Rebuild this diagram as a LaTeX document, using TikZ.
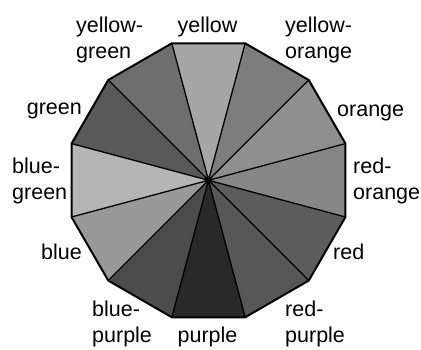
\documentclass[tikz,border=0pt]{standalone}
\usepackage{fontspec}
\setmainfont{Liberation Sans}
\usetikzlibrary{calc}
\tikzset{
  spoke/.style = {draw=black, line width=1.3pt, line cap=round},
  rim/.style   = {draw=black, line width=2pt, line join=miter},
  hub/.style   = {circle, fill=black, inner sep=0pt, minimum size=8pt},
  hue/.style   = {font=\fontsize{21.5}{26.5}\selectfont, align=left, inner sep=0pt},
}

\begin{document}
\begin{tikzpicture}[x=1pt, y=1pt]
\useasboundingbox (0,0) rectangle (421,350);
\coordinate (c) at (208.5,169.7);
\def\rad{141.8}

% corners of the dodecagon
\foreach \k in {0,...,11}
  \coordinate (v\k) at ($(c)+(15+30*\k:\rad)$);

% wedges, counter-clockwise from red-orange
\foreach \k/\j/\tone in {11/0/47, 0/1/44, 1/2/51, 2/3/35, 3/4/57, 4/5/65,
                         5/6/29, 6/7/40, 7/8/70, 8/9/84, 9/10/66, 10/11/64}
  \fill[black!\tone] (c) -- (v\k) -- (v\j) -- cycle;

\foreach \k in {0,...,11}
  \draw[spoke] (c) -- (v\k);
\draw[rim] (v0) -- (v1) -- (v2) -- (v3) -- (v4) -- (v5) -- (v6) -- (v7)
  -- (v8) -- (v9) -- (v10) -- (v11) -- cycle;
\node[hub] (mid) at (c) {};

% labels (two-line ones sit on their lower baseline)
\node[hue, anchor=base]      (yel)   at (207.5,317) {yellow};
\node[hue, anchor=base west] (yelgr) at (76,291)    {yellow-\\green};
\node[hue, anchor=base west] (yelor) at (285,291)   {yellow-\\orange};
\node[hue, anchor=base east] (gr)    at (82,235)    {green};
\node[hue, anchor=base west] (or)    at (337,233)   {orange};
\node[hue, anchor=base west] (blgr)  at (12,150)    {blue-\\green};
\node[hue, anchor=base west] (redor) at (353,150)   {red-\\orange};
\node[hue, anchor=base east] (bl)    at (82,90)     {blue};
\node[hue, anchor=base west] (red)   at (333,90)    {red};
\node[hue, anchor=base west] (blpu)  at (92,7)      {blue-\\purple};
\node[hue, anchor=base]      (pu)    at (207.5,7)   {purple};
\node[hue, anchor=base west] (redpu) at (285,7)     {red-\\purple};
\end{tikzpicture}
\end{document}
